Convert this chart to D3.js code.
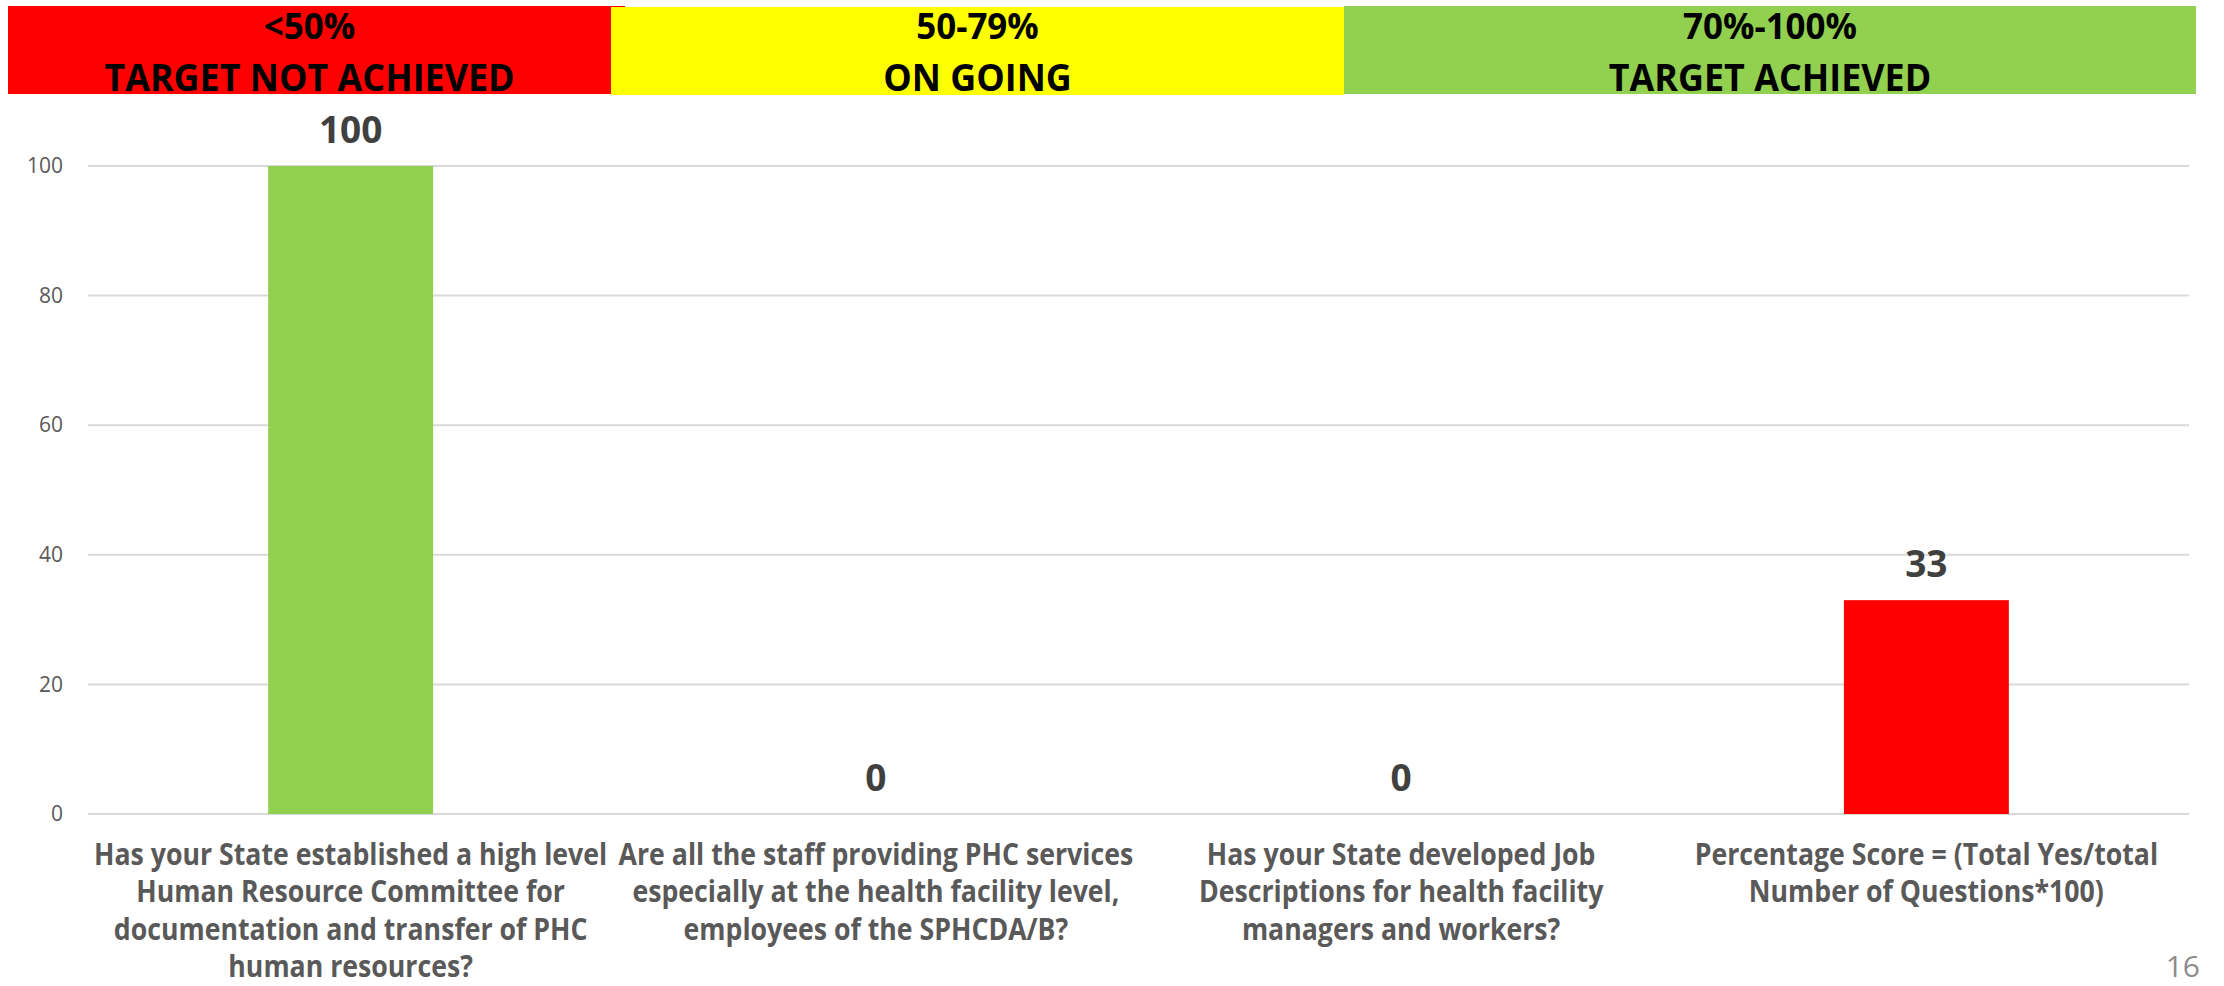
<!DOCTYPE html>
<html>
<head>
<meta charset="utf-8">
<script src="https://cdn.jsdelivr.net/npm/d3@7"></script>
<style>
  body { margin: 0; background: #fff; }
  svg { display: block; font-family: "Open Sans", "Noto Sans", sans-serif; }
</style>
</head>
<body>
<svg class="chart"></svg>
<script>
// chart data
var categories = [
    "Has your State established a high level\nHuman Resource Committee for\ndocumentation and transfer of PHC\nhuman resources?",
    "Are all the staff providing PHC services\nespecially at the health facility level,\nemployees of the SPHCDA/B?",
    "Has your State developed Job\nDescriptions for health facility\nmanagers and workers?",
    "Percentage Score = (Total Yes/total\nNumber of Questions*100)"
];
var values = [100, 0, 0, 33];
var yTicks = [0, 20, 40, 60, 80, 100];

// legend bands across the top
var bandRanges = ["<50%", "50-79%", "70%-100%"];
var bandStatus = ["TARGET NOT ACHIEVED", "ON GOING", "TARGET ACHIEVED"];
var bandColors = ["#ff0000", "#ffff00", "#92d050"];
var bandThresholds = [50, 80];

function show() {
    'use strict';

    var W = 2224, H = 986;
    var plot = {left: 88, right: 2189, top: 166, bottom: 814};
    var bandEdges = [8, 611, 1344, 2196];
    var labelSquash = 0.89;

    var svg = d3.select(".chart")
        .attr("width", W)
        .attr("height", H);

    // header bands
    var head = svg.append("g").attr("class", "bands");
    head.selectAll("rect")
        .data(bandColors)
        .enter().append("rect")
        .attr("x", function(d, i) { return bandEdges[i]; })
        .attr("y", function(d, i) { return i === 1 ? 7 : 6; })
        .attr("width", function(d, i) { return (bandEdges[i + 1] - bandEdges[i]) + (i === 0 ? 14 : 0); })
        .attr("height", 88)
        .attr("fill", function(d) { return d; });
    // yellow sits over the red's overhang
    head.selectAll("rect").filter(function(d, i) { return i === 1; }).raise();

    var bandText = head.selectAll("g.bt")
        .data(bandRanges)
        .enter().append("g")
        .attr("class", "bt")
        .attr("transform", function(d, i) {
            return "translate(" + ((bandEdges[i] + bandEdges[i + 1]) / 2) + ",0) scale(0.97,1)";
        });
    bandText.append("text")
        .attr("y", 39)
        .attr("text-anchor", "middle")
        .attr("font-size", 36)
        .attr("font-weight", 700)
        .attr("fill", "#000")
        .text(function(d) { return d; });
    bandText.append("text")
        .attr("y", 91)
        .attr("text-anchor", "middle")
        .attr("font-size", 37)
        .attr("font-weight", 700)
        .attr("fill", "#000")
        .text(function(d, i) { return bandStatus[i]; });

    // scales
    var x = d3.scaleBand()
        .domain(d3.range(categories.length))
        .range([plot.left, plot.right])
        .paddingInner(0.686)
        .paddingOuter(0.343);

    var y = d3.scaleLinear()
        .domain([0, 100])
        .range([plot.bottom, plot.top]);

    var barColor = d3.scaleThreshold()
        .domain(bandThresholds)
        .range(bandColors);

    // gridlines
    svg.append("g")
        .attr("class", "grid")
        .selectAll("line")
        .data(yTicks)
        .enter().append("line")
        .attr("x1", plot.left)
        .attr("x2", plot.right)
        .attr("y1", function(d) { return y(d); })
        .attr("y2", function(d) { return y(d); })
        .attr("stroke", "#d9d9d9")
        .attr("stroke-width", 2);

    // y axis labels
    var yAxis = d3.axisLeft(y).tickValues(yTicks).tickSize(0).tickPadding(0);
    var ya = svg.append("g")
        .attr("transform", "translate(63,0)")
        .call(yAxis);
    ya.select(".domain").remove();
    ya.selectAll("text")
        .attr("font-size", 21)
        .attr("font-family", "Open Sans, sans-serif")
        .attr("fill", "#595959");

    // bars
    svg.append("g")
        .attr("class", "bars")
        .selectAll("rect")
        .data(values)
        .enter().append("rect")
        .attr("x", function(d, i) { return x(i); })
        .attr("y", function(d) { return y(d); })
        .attr("width", x.bandwidth())
        .attr("height", function(d) { return y(0) - y(d); })
        .attr("fill", function(d) { return barColor(d); });

    // value labels
    svg.append("g")
        .attr("class", "values")
        .selectAll("text")
        .data(values)
        .enter().append("text")
        .attr("x", function(d, i) { return x(i) + x.bandwidth() / 2; })
        .attr("y", function(d) { return y(d) - 23; })
        .attr("text-anchor", "middle")
        .attr("font-size", 37)
        .attr("font-weight", 700)
        .attr("fill", "#404040")
        .text(function(d) { return d; });

    // category labels, wrapped like the original
    var cats = svg.append("g")
        .attr("class", "cats")
        .selectAll("g")
        .data(categories)
        .enter().append("g")
        .attr("transform", function(d, i) {
            return "translate(" + (x(i) + x.bandwidth() / 2) + ",865) scale(" + labelSquash + ",1)";
        });
    cats.selectAll("text")
        .data(function(d) { return d.split("\n"); })
        .enter().append("text")
        .attr("y", function(d, j) { return j * 37.5; })
        .attr("text-anchor", "middle")
        .attr("font-size", 30)
        .attr("font-weight", 700)
        .attr("fill", "#595959")
        .text(function(d) { return d; });

    // slide number
    svg.append("text")
        .attr("x", 2200)
        .attr("y", 977)
        .attr("text-anchor", "end")
        .attr("font-size", 30)
        .attr("fill", "#8c8c8c")
        .text("16");
}
show();
</script>
</body>
</html>
